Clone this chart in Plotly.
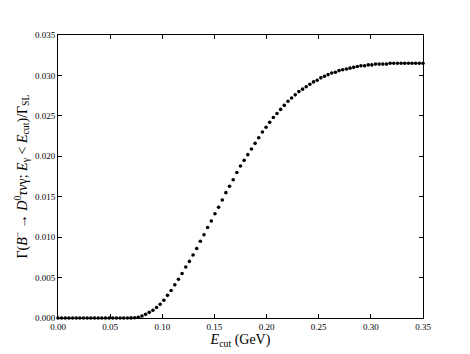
import plotly.graph_objects as go

# photon energy cut (GeV), step 0.0035 from 0 to 0.35
e_cut = [round(0.0035 * i, 4) for i in range(101)]

# partial rate ratio
ratio = [
    0.0, 0.0, 0.0, 0.0, 0.0, 0.0, 0.0, 0.0, 0.0, 0.0,
    0.0, 0.0, 0.0, 0.0, 0.0, 0.0, 0.0, 0.0, 0.0, 0.0,
    0.00001, 0.00003, 0.0001, 0.00025, 0.00045, 0.0007, 0.00095, 0.0013, 0.0017, 0.0022,
    0.0028, 0.0034, 0.0041, 0.0048, 0.0055, 0.0063, 0.0070, 0.0078, 0.0086, 0.0095,
    0.0103, 0.0112, 0.0120, 0.0129, 0.0137, 0.0146, 0.0155, 0.0163, 0.0171, 0.0180,
    0.0188, 0.0195, 0.0202, 0.0209, 0.0216, 0.0223, 0.0230, 0.0236, 0.0242, 0.0248,
    0.0253, 0.0258, 0.0263, 0.0268, 0.0272, 0.0276, 0.0280, 0.0283, 0.0286, 0.0289,
    0.0292, 0.0294, 0.0297, 0.0299, 0.0301, 0.0303, 0.0304, 0.0306, 0.0307, 0.0308,
    0.0309, 0.0310, 0.0311, 0.0312, 0.0312, 0.0313, 0.0313, 0.0314, 0.0314, 0.0314,
    0.0314, 0.0315, 0.0315, 0.0315, 0.0315, 0.0315, 0.0315, 0.0315, 0.0315, 0.0315,
    0.0315,
]

x_ticks = [0.00, 0.05, 0.10, 0.15, 0.20, 0.25, 0.30, 0.35]
y_ticks = [0.000, 0.005, 0.010, 0.015, 0.020, 0.025, 0.030, 0.035]

fig = go.Figure()
fig.add_trace(go.Scatter(x=e_cut, y=ratio, mode='markers',
                         marker=dict(color='black', size=3.6),
                         cliponaxis=False, showlegend=False))

axis_style = dict(showgrid=False, zeroline=False, showline=True, mirror='ticks',
                  linecolor='black', linewidth=1, ticks='inside', ticklen=4,
                  tickcolor='black', automargin=False,
                  tickfont=dict(family='Liberation Serif', size=9, color='black'))

# page body adds 8px on top/left, so the figure is a little smaller
fig.update_layout(
    width=462, height=346,
    margin=dict(l=50, r=47, t=27, b=36),
    paper_bgcolor='white', plot_bgcolor='white',
    font=dict(family='Liberation Serif', color='black'),
    xaxis=dict(range=[0, 0.35], tickvals=x_ticks, ticktext=['%.2f' % v for v in x_ticks],
               title=dict(text='<i>E</i><sub>cut</sub> (GeV)', font=dict(size=14), standoff=0),
               **axis_style),
    yaxis=dict(range=[0, 0.035], tickvals=y_ticks, ticktext=['%.3f' % v for v in y_ticks],
               title=dict(text='Γ(<i>B</i><sup>−</sup> → <i>D</i><sup>0</sup><i>τν</i>γ; '
                               '<i>E</i><sub>γ</sub> &lt; <i>E</i><sub>cut</sub>)/Γ<sub>SL</sub>',
                          font=dict(size=14), standoff=4),
               **axis_style),
)

fig.write_html("out.html")
